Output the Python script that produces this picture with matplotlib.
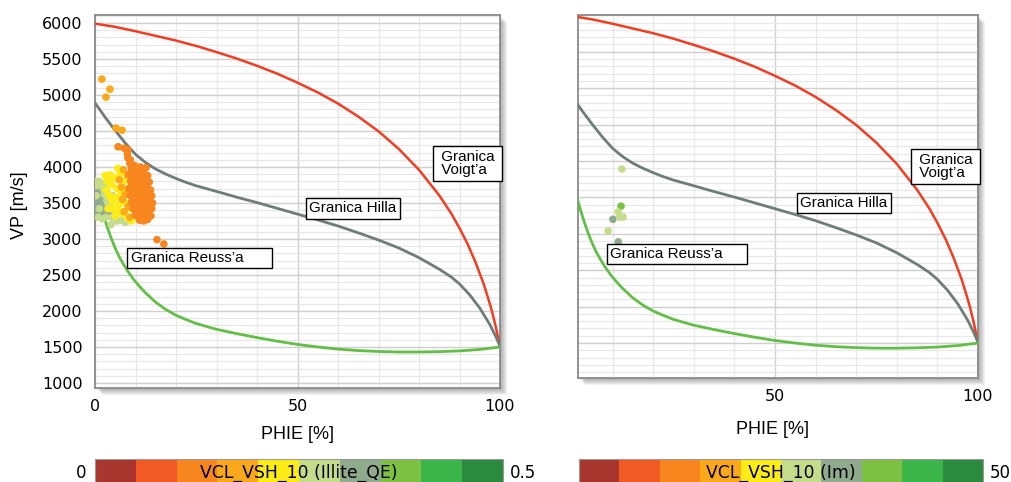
import numpy as np
import matplotlib
matplotlib.use('Agg')
import matplotlib.pyplot as plt
from matplotlib.colors import ListedColormap, BoundaryNorm
from matplotlib.cm import ScalarMappable
from matplotlib.patches import Rectangle
from matplotlib.ticker import MultipleLocator, FixedLocator

# --- granice ---
phie_voigt = [0, 5, 10, 15, 20, 25, 30, 35, 40, 45, 50, 55, 60, 65, 70, 75, 80, 85, 88, 90, 92, 94, 96, 97, 98,
              99, 100]
vp_voigt = [5990, 5945, 5885, 5820, 5755, 5680, 5595, 5505, 5405, 5295, 5170, 5035, 4880, 4700, 4495, 4250,
            3960, 3605, 3350, 3150, 2930, 2670, 2370, 2190, 2000, 1770, 1500]

phie_hill = [0, 2.5, 5, 7.5, 10, 12.5, 15, 17.5, 20, 22.5, 25, 30, 35, 40, 45, 50, 55, 60, 65, 70, 75, 80, 85,
             88, 90, 92.5, 95, 97.5, 99, 100]
vp_hill = [4890, 4690, 4505, 4330, 4175, 4060, 3970, 3900, 3840, 3785, 3738, 3660, 3580, 3505, 3425, 3345,
           3265, 3180, 3085, 2985, 2875, 2740, 2580, 2470, 2375, 2225, 2040, 1810, 1640, 1510]

phie_reuss = [0, 0.5, 1, 1.5, 2, 3, 4, 5, 6, 7, 8, 9.5, 11, 12.5, 15, 17.5, 20, 22.5, 25, 30, 35, 40, 45, 50,
              55, 60, 65, 70, 75, 80, 85, 90, 95, 100]
vp_reuss = [3780, 3670, 3560, 3450, 3350, 3170, 3010, 2870, 2750, 2650, 2560, 2440, 2340, 2250, 2120, 2020,
            1940, 1880, 1825, 1745, 1685, 1630, 1580, 1535, 1500, 1470, 1450, 1437, 1430, 1430, 1435, 1445,
            1465, 1500]

# --- punkty, lewy wykres (VCL_VSH_10 Illite_QE) ---
phie_l = [0.3, 0.5, 0.7, 0.4, 1.0, 1.2, 1.5, 0.8, 1.8, 2.1, 0.2, 1.3, 2.4, 0.6, 1.6, 2.8, 3.5, 2.2,
          0.2, 0.5, 1.0, 1.5, 2.0, 2.5, 3.0, 0.8, 1.8, 2.7, 3.2, 3.8, 4.2, 4.5, 5.0, 0.3, 1.1, 2.3, 3.6, 5.5,
          6.5, 7.5, 9.4, 11.9, 4.0, 2.9,
          2.5, 3.7, 3.0, 4.2, 4.8, 5.5, 3.5, 4.3, 5.2, 6.0, 6.5, 7.0, 5.8, 6.8, 7.5, 8.0, 4.5, 6.2, 7.8, 8.5,
          3.2, 5.0, 9.0, 8.8, 2.8, 5.6,
          6.0, 7.0, 7.5, 8.0, 8.2, 9.0, 9.5, 10.0, 10.5, 8.6, 11.0, 6.8, 9.2, 7.2, 11.5, 10.2, 12.0, 6.5,
          1.7, 3.7, 2.7, 5.2, 6.7,
          8.6, 9.0, 9.8, 10.5, 11.2, 12.0, 12.6,
          8.5, 9.3, 10.0, 10.8, 11.5, 12.3, 13.0,
          8.8, 9.6, 10.4, 11.1, 11.9, 12.7, 13.4,
          8.4, 9.2, 10.0, 10.7, 11.5, 12.2, 13.0, 13.7,
          8.7, 9.5, 10.3, 11.0, 11.8, 12.5, 13.3, 14.0,
          9.0, 9.8, 10.6, 11.4, 12.1, 12.9, 13.6, 14.2,
          9.4, 10.2, 11.0, 11.8, 12.6, 13.3, 14.0,
          10.0, 10.8, 11.6, 12.4, 13.1, 13.8,
          11.0, 12.0, 13.0,
          5.7, 7.2, 8.1, 8.1, 8.0, 8.7, 15.3, 17.0]
vp_l = [3700, 3560, 3460, 3380, 3640, 3520, 3420, 3780, 3600, 3480, 3480, 3340, 3560, 3620, 3700, 3420, 3330, 3380,
        3800, 3740, 3800, 3780, 3700, 3760, 3650, 3300, 3280, 3300, 3500, 3420, 3300, 3600, 3380, 3600, 3420,
        3620, 3780, 3250, 3260, 3230, 3290, 3290, 3200, 3540,
        3880, 3890, 3800, 3750, 3850, 3700, 3600, 3520, 3580, 3480, 3650, 3800, 3400, 3350, 3500, 3300, 3420,
        3900, 3700, 3420, 3420, 3320, 3250, 3600, 3680, 3980,
        3820, 3960, 3620, 3880, 3450, 3750, 3550, 3350, 3650, 3300, 3450, 3550, 3950, 3380, 3280, 3880, 3550, 3720,
        5220, 5080, 4970, 4540, 4510,
        4050, 3980, 4020, 3970, 4000, 3960, 3990,
        3900, 3880, 3900, 3880, 3900, 3870, 3880,
        3800, 3790, 3810, 3780, 3800, 3780, 3790,
        3700, 3710, 3690, 3720, 3700, 3690, 3710, 3680,
        3600, 3610, 3590, 3620, 3600, 3610, 3590, 3600,
        3510, 3500, 3520, 3500, 3510, 3490, 3520, 3500,
        3420, 3410, 3430, 3400, 3420, 3400, 3420,
        3330, 3340, 3320, 3340, 3330, 3320,
        3260, 3250, 3270,
        4280, 4260, 4240, 4125, 4180, 4100, 2990, 2930]
vcl_l = [0.325] * 18 + [0.275] * 26 + [0.225] * 26 + [0.175] * 18 + [0.175] * 5 + [0.125] * 61 + [0.125] * 8

# --- punkty, prawy wykres (VCL_VSH_10 Im) ---
phie_r = [12.3, 12.1, 11.4, 10.1, 11.8, 12.6, 8.9, 11.4]
vp_r = [3890, 3380, 3300, 3200, 3230, 3230, 3040, 2890]
vcl_r = [27.5, 37.5, 27.5, 32.5, 27.5, 27.5, 27.5, 32.5]

kolory = ['#A8362F', '#F15A24', '#F7861F', '#FBA81B', '#FEEC16',
          '#C4DC8C', '#8FAA8C', '#7DC143', '#3BB44A', '#2A8A3E']
cmap = ListedColormap(kolory)
norm_l = BoundaryNorm(np.linspace(0, 0.5, 11), 10)
norm_r = BoundaryNorm(np.linspace(0, 50, 11), 10)

W, H = 1011, 482
fig = plt.figure(figsize=(W / 100, H / 100), dpi=100)
fig.patch.set_facecolor('white')


def px(x0, y0, x1, y1):
    return [x0 / W, 1 - y1 / H, (x1 - x0) / W, (y1 - y0) / H]


def cien(ax):
    p = ax.get_position()
    for i in range(2, 8):
        fig.add_artist(Rectangle((p.x0 + i / W, p.y0 - i / H), p.width, p.height,
                                 transform=fig.transFigure, facecolor='black', alpha=0.05,
                                 edgecolor='none', zorder=-1))


def panel(ax, xlim, ylim):
    ax.set_xlim(*xlim)
    ax.set_ylim(*ylim)
    ax.set_facecolor('white')
    ax.xaxis.set_major_locator(FixedLocator([0, 50, 100]))
    ax.xaxis.set_minor_locator(MultipleLocator(10))
    ax.yaxis.set_major_locator(MultipleLocator(500))
    ax.yaxis.set_minor_locator(MultipleLocator(100))
    ax.grid(which='major', color='#cfcfcf', lw=1.0, zorder=0)
    ax.grid(which='minor', color='#e8e8e8', lw=0.9, zorder=0)
    ax.set_axisbelow(True)
    ax.tick_params(which='both', length=0, labelsize=11.5)
    for s in ax.spines.values():
        s.set_color('#8a8a8a')
        s.set_linewidth(1.3)
    for t in ax.get_xticklabels() + ax.get_yticklabels():
        t.set_family('DejaVu Sans')
    ax.plot(phie_voigt, vp_voigt, color='#F23D22', lw=1.8, zorder=3)
    ax.plot(phie_hill, vp_hill, color='#6F7C79', lw=2.0, zorder=3)
    ax.plot(phie_reuss, vp_reuss, color='#63BE47', lw=2.0, zorder=3)


box = dict(boxstyle='square,pad=0.22', fc='white', ec='black', lw=1.0)
box_v = dict(boxstyle='square,pad=0.25', fc='white', ec='black', lw=1.0)
fnt = dict(family='Liberation Sans', fontsize=11, zorder=6)

# lewy
ax1 = fig.add_axes(px(95, 15, 500, 388))
panel(ax1, (0, 100), (930, 6110))
ax1.tick_params(axis='x', pad=8)
ax1.tick_params(axis='y', pad=9)
kol = np.argsort(vcl_l, kind='stable')[::-1]
ax1.scatter(np.array(phie_l)[kol], np.array(vp_l)[kol], c=np.array(vcl_l)[kol], cmap=cmap, norm=norm_l,
            s=30, edgecolors='none', zorder=4)
ax1.set_xlabel('PHIE [%]', family='Liberation Sans', fontsize=13)
ax1.xaxis.set_label_coords(0.499, -0.102)
ax1.set_ylabel('VP [m/s]', family='Liberation Sans', fontsize=13)
ax1.yaxis.set_label_coords(-0.165, 0.49)
ax1.text(92.0, 4049, ' Granica \n Voigt\u2019a ', ha='center', va='center', linespacing=0.95,
         multialignment='left', bbox=box_v, **fnt)
ax1.text(63.6, 3424, 'Granica Hilla', ha='center', va='center', bbox=box, **fnt)
ax1.text(8.8, 2736, 'Granica Reuss\u2019a      ', ha='left', va='center', bbox=box, **fnt)
cien(ax1)

# prawy
ax2 = fig.add_axes(px(578, 15, 978, 378))
panel(ax2, (1.5, 100), (1020, 6005))
ax2.set_yticklabels([])
ax2.xaxis.set_major_locator(FixedLocator([50, 100]))
ax2.tick_params(axis='x', pad=8)
ax2.scatter(phie_r, vp_r, c=vcl_r, cmap=cmap, norm=norm_r, s=30, edgecolors='none', zorder=4)
ax2.set_xlabel('PHIE [%]', family='Liberation Sans', fontsize=13)
ax2.xaxis.set_label_coords(0.4875, -0.119)
ax2.text(92.0, 3924, ' Granica \n Voigt\u2019a ', ha='center', va='center', linespacing=0.95,
         multialignment='left', bbox=box_v, **fnt)
ax2.text(67.0, 3423, 'Granica Hilla', ha='center', va='center', bbox=box, **fnt)
ax2.text(9.4, 2723, 'Granica Reuss\u2019a     ', ha='left', va='center', bbox=box, **fnt)
cien(ax2)

# paski kolorow
for poz, norm, opis, lewy, prawy in [((95, 459, 503, 483), norm_l, 'VCL_VSH_10 (Illite_QE)', '0', '0.5'),
                                     ((579, 459, 983, 483), norm_r, 'VCL_VSH_10 (Im)', '', '50')]:
    cax = fig.add_axes(px(*poz))
    cb = fig.colorbar(ScalarMappable(norm=norm, cmap=cmap), cax=cax, orientation='horizontal')
    cb.set_ticks([])
    cb.outline.set_edgecolor('#9a9a9a')
    cb.outline.set_linewidth(0.8)
    cax.text(0.5, 0.42, opis, transform=cax.transAxes, ha='center', va='center',
             family='DejaVu Sans', fontsize=12.4)
    cax.text(-0.02, 0.42, lewy, transform=cax.transAxes, ha='right', va='center',
             family='DejaVu Sans', fontsize=12)
    cax.text(1.017, 0.42, prawy, transform=cax.transAxes, ha='left', va='center',
             family='DejaVu Sans', fontsize=12)

fig.savefig('out.png', dpi=100)
